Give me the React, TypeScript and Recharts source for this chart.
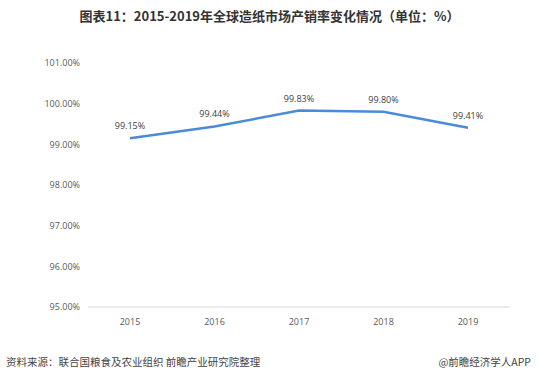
import { LineChart, Line, XAxis, YAxis, LabelList } from "recharts";

const years = ["2015", "2016", "2017", "2018", "2019"];
const salesRate = [99.15, 99.44, 99.83, 99.8, 99.41];
const yTicks = [95, 96, 97, 98, 99, 100, 101];

const data = years.map((year, i) => ({ year, value: salesRate[i] }));

const fontCn = '"Noto Sans CJK SC", "Noto Sans", sans-serif';

export default function App() {
  return (
    <div
      style={{
        position: "absolute",
        left: 0,
        top: 0,
        width: 539,
        height: 382,
        background: "#fff",
        fontFamily: fontCn,
      }}
    >
      <div
        style={{
          position: "absolute",
          top: 6,
          left: 0,
          width: 539,
          textAlign: "center",
          fontSize: 13,
          fontWeight: 700,
          color: "#333",
          lineHeight: "20px",
        }}
      >
        图表11：2015-2019年全球造纸市场产销率变化情况（单位：%）
      </div>
      <LineChart
        width={539}
        height={382}
        data={data}
        margin={{ top: 63, right: 29, left: 8, bottom: 45 }}
      >
        <XAxis
          dataKey="year"
          tickLine={false}
          axisLine={{ stroke: "#d9d9d9" }}
          tick={{ fill: "#595959", fontSize: 9, fontFamily: "Open Sans, sans-serif" }}
          padding={{ left: 42, right: 42 }}
          tickMargin={6}
        />
        <YAxis
          width={80}
          domain={[95, 101]}
          ticks={yTicks}
          tickLine={false}
          axisLine={false}
          tick={{ fill: "#595959", fontSize: 9, fontFamily: "Open Sans, sans-serif" }}
          tickFormatter={(v: number) => `${v.toFixed(2)}%`}
        />
        <Line
          type="linear"
          dataKey="value"
          stroke="#4a8bd9"
          strokeWidth={2.5}
          dot={false}
          isAnimationActive={false}
        >
          <LabelList
            dataKey="value"
            position="top"
            offset={9}
            fill="#404040"
            fontSize={9}
            fontFamily="Open Sans, sans-serif"
            formatter={(v: any) => `${Number(v).toFixed(2)}%`}
          />
        </Line>
      </LineChart>
      <div
        style={{
          position: "absolute",
          top: 355,
          left: 6,
          fontSize: 10.5,
          color: "#444",
          lineHeight: "14px",
        }}
      >
        资料来源：联合国粮食及农业组织 前瞻产业研究院整理
      </div>
      <div
        style={{
          position: "absolute",
          top: 355,
          right: 8,
          fontSize: 10.5,
          color: "#444",
          lineHeight: "14px",
        }}
      >
        @前瞻经济学人APP
      </div>
    </div>
  );
}
